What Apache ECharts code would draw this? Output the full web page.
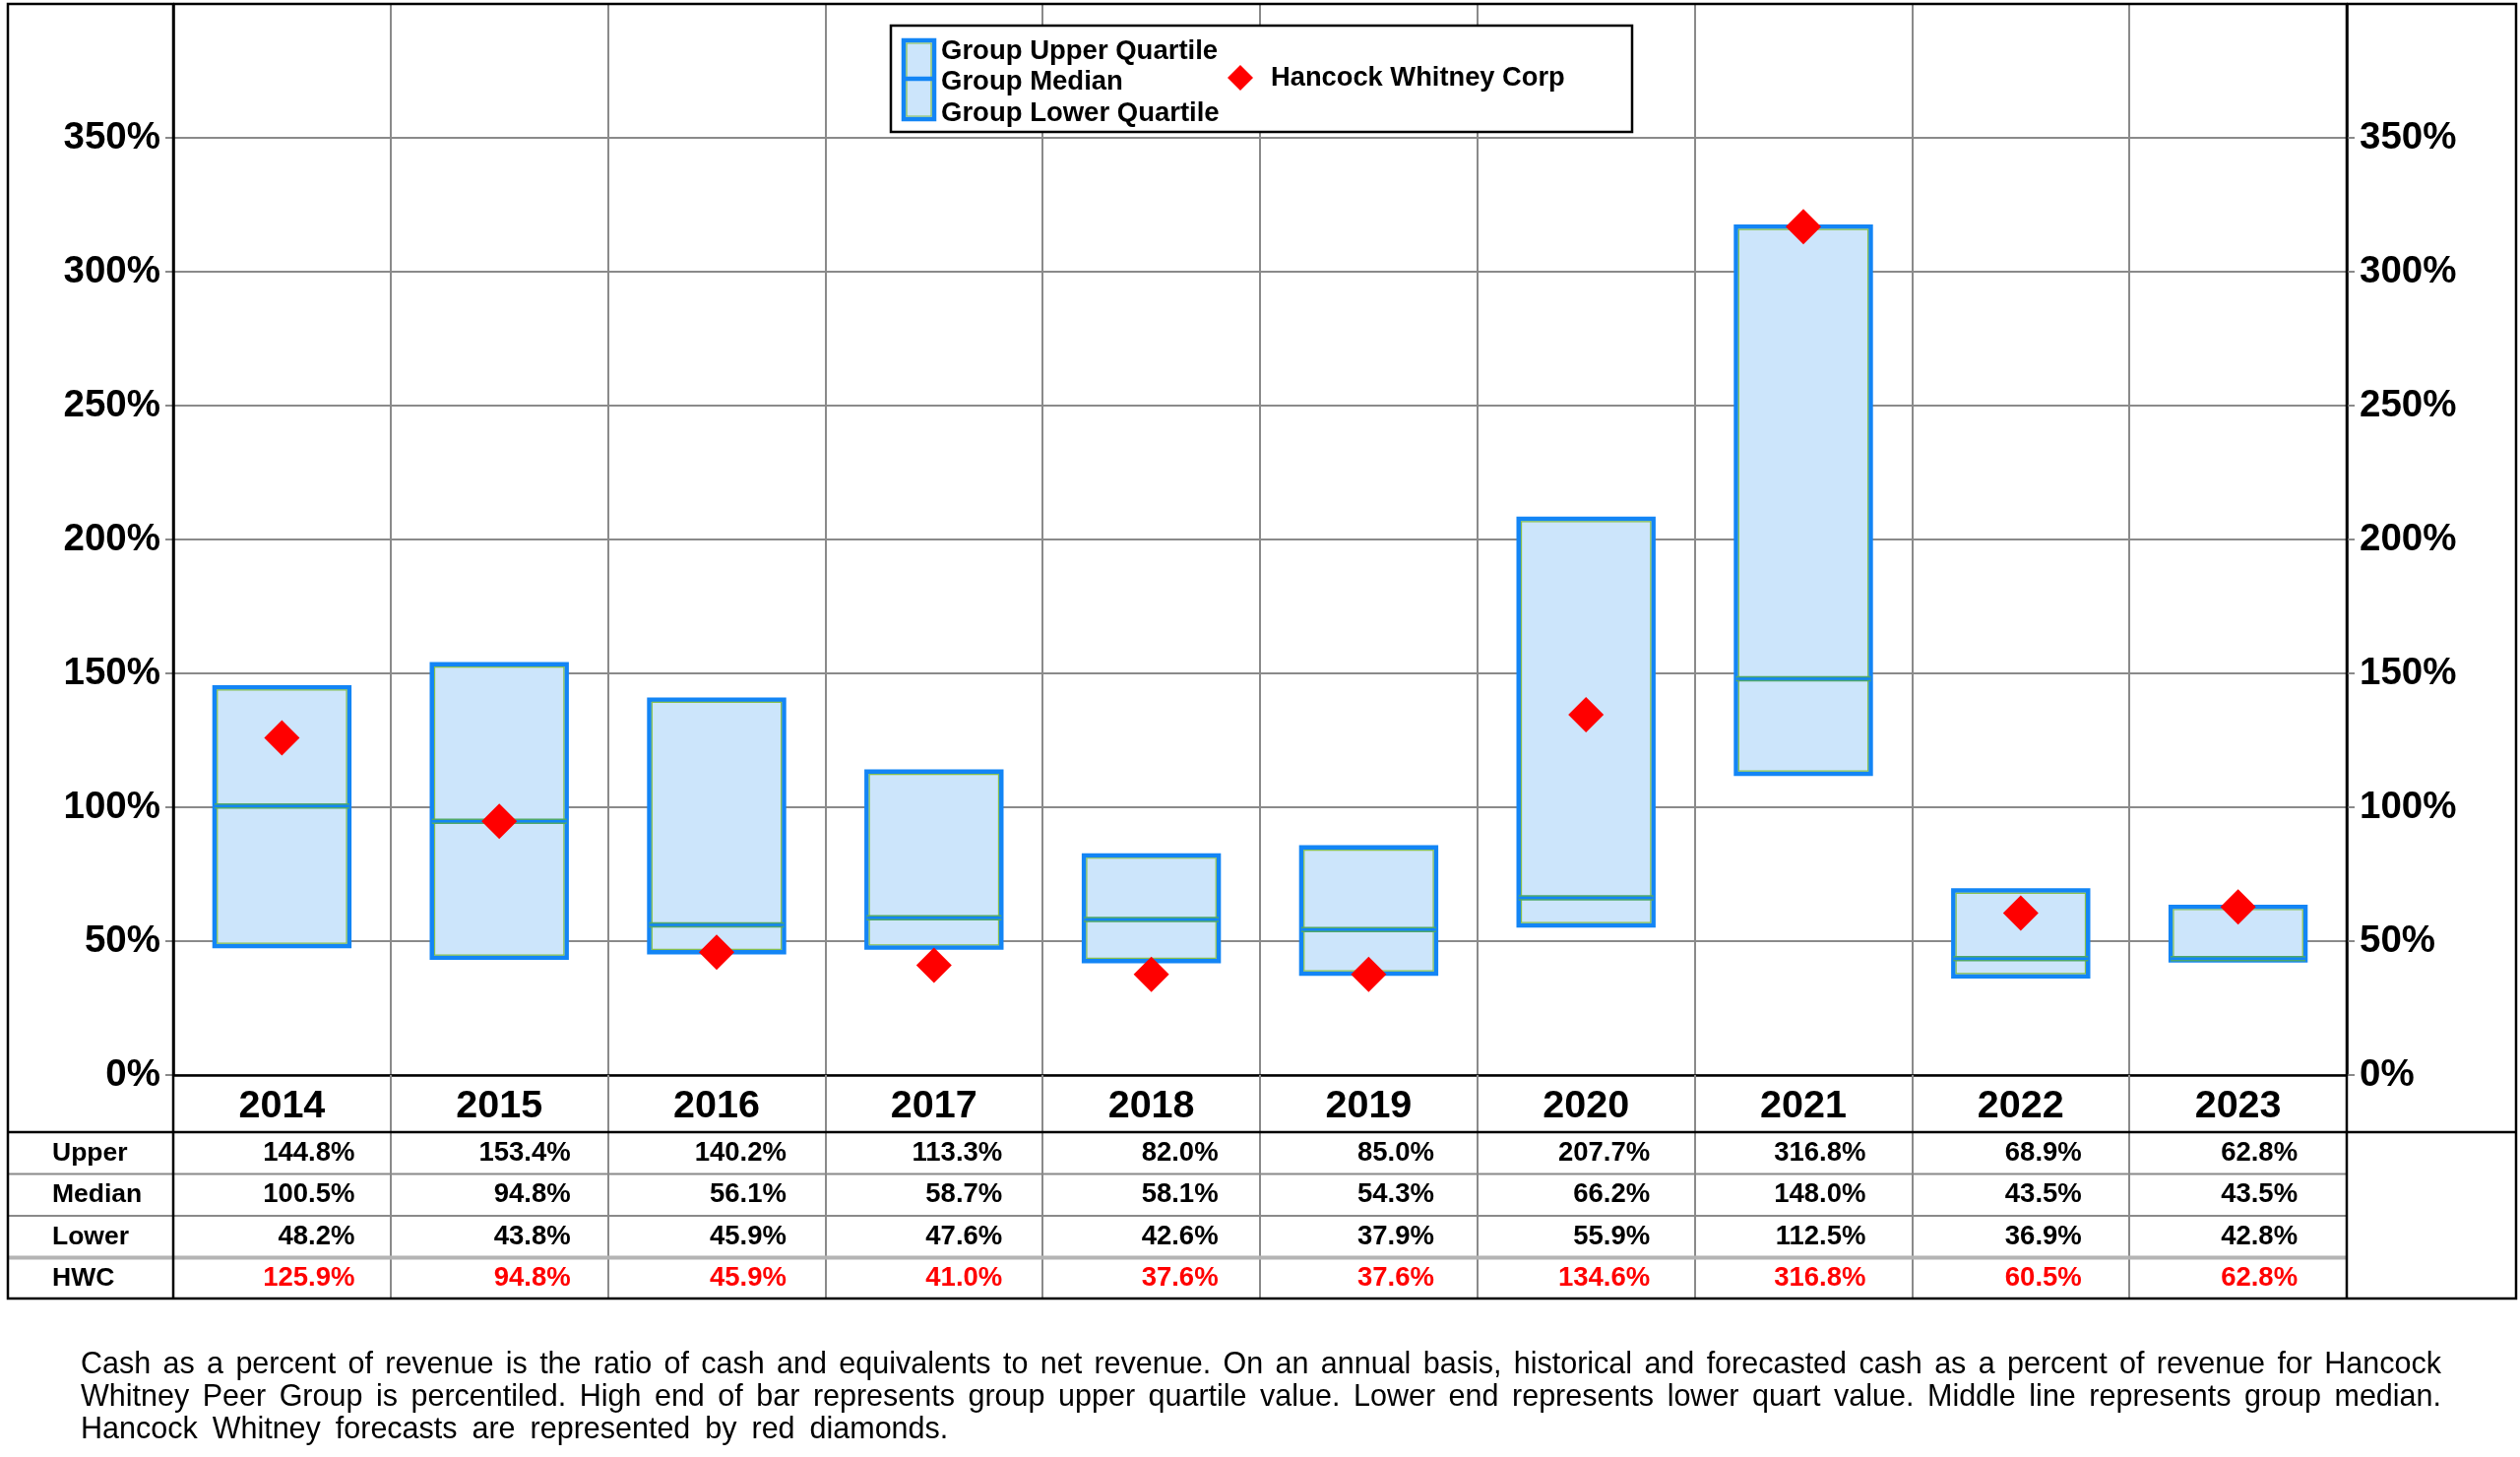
<!DOCTYPE html>
<html>
<head>
<meta charset="utf-8">
<script src="https://cdn.jsdelivr.net/npm/echarts@6/dist/echarts.min.js"></script>
<style>
  html, body { margin: 0; padding: 0; background: #fff; }
  #wrap { position: relative; width: 2560px; height: 1480px; }
  #chart { position: absolute; left: 0; top: 0; width: 2560px; height: 1480px; }
  #note { position: absolute; left: 82px; top: 1368px; width: 2398px;
          font-family: "Liberation Sans", Arial, sans-serif; font-size: 30.5px; line-height: 33px; color: #000; }
  #note div { white-space: nowrap; }
  #note div.j { text-align: justify; text-align-last: justify; white-space: normal; }
  #note div.l { word-spacing: 6.5px; }
</style>
</head>
<body>
<div id="wrap">
  <div id="chart"></div>
  <div id="note">
    <div class="j">Cash as a percent of revenue is the ratio of cash and equivalents to net revenue. On an annual basis, historical and forecasted cash as a percent of revenue for Hancock</div>
    <div class="j">Whitney Peer Group is percentiled. High end of bar represents group upper quartile value. Lower end represents lower quart value. Middle line represents group median.</div>
    <div class="l">Hancock Whitney forecasts are represented by red diamonds.</div>
  </div>
</div>
<script>
// ---------- data ----------
const years   = ['2014','2015','2016','2017','2018','2019','2020','2021','2022','2023'];
const upper   = [144.8, 153.4, 140.2, 113.3, 82.0, 85.0, 207.7, 316.8, 68.9, 62.8];
const median  = [100.5,  94.8,  56.1,  58.7, 58.1, 54.3,  66.2, 148.0, 43.5, 43.5];
const lower   = [ 48.2,  43.8,  45.9,  47.6, 42.6, 37.9,  55.9, 112.5, 36.9, 42.8];
const hwc     = [125.9,  94.8,  45.9,  41.0, 37.6, 37.6, 134.6, 316.8, 60.5, 62.8];
const rowNames = ['Upper', 'Median', 'Lower', 'HWC'];
const legendGroup = ['Group Upper Quartile', 'Group Median', 'Group Lower Quartile'];
const legendHwc = 'Hancock Whitney Corp';

// ---------- layout ----------
const FONT = '"Liberation Sans", Arial, Helvetica, sans-serif';
const L = 176, R = 2384, TOP = 4, ZERO = 1092;
const YEAR_BOTTOM = 1150, ROW_H = 42.5, TABLE_BOTTOM = 1320;
const FRAME_L = 8, FRAME_R = 2556;
const GRID_GRAY = '#8a8a8a';
const BLUE = '#1385f5', FILL = '#cce5fb', GREEN = '#86c04e', MEDGREEN = '#4fa86a';

const tableRows = [upper, median, lower, hwc];

const boxData = years.map((y, i) => [i, lower[i], median[i], upper[i]]);
const tableData = [];
rowNames.forEach((r, ri) => years.forEach((y, i) => tableData.push([i, ri])));

const chart = echarts.init(document.getElementById('chart'), null, { renderer: 'canvas' });

const yAxisCommon = {
  type: 'value', min: 0, max: 400, interval: 50, gridIndex: 0,
  axisLine: { show: true, lineStyle: { color: '#000', width: 2.5 } },
  axisTick: { show: true, length: 8, lineStyle: { color: GRID_GRAY, width: 2 } },
  splitLine: { show: true, lineStyle: { color: GRID_GRAY, width: 2 } },
  axisLabel: {
    margin: 13, color: '#000', fontFamily: FONT, fontWeight: 'bold', fontSize: 38.5,
    formatter: v => (v >= 400 ? '' : v + '%')
  }
};

const graphics = [];
// frame
graphics.push({ type: 'rect', shape: { x: FRAME_L, y: TOP, width: FRAME_R - FRAME_L, height: TABLE_BOTTOM - TOP - 1 },
  style: { fill: null, stroke: '#000', lineWidth: 2.5 }, z: 100 });
graphics.push({ type: 'line', shape: { x1: L, y1: TOP, x2: L, y2: TABLE_BOTTOM - 1 }, style: { stroke: '#000', lineWidth: 2.5 }, z: 100 });
graphics.push({ type: 'line', shape: { x1: R, y1: TOP, x2: R, y2: TABLE_BOTTOM - 1 }, style: { stroke: '#000', lineWidth: 2.5 }, z: 100 });
graphics.push({ type: 'line', shape: { x1: FRAME_L, y1: YEAR_BOTTOM, x2: FRAME_R, y2: YEAR_BOTTOM }, style: { stroke: '#000', lineWidth: 2.5 }, z: 100 });
for (let k = 1; k < rowNames.length; k++) {
  const y = YEAR_BOTTOM + ROW_H * k;
  const last = k === rowNames.length - 1;
  graphics.push({ type: 'line', shape: { x1: FRAME_L, y1: y, x2: R, y2: y },
    style: { stroke: last ? '#b4b4b4' : GRID_GRAY, lineWidth: last ? 4 : 2 }, z: 90 });
}
// legend
graphics.push({ type: 'rect', shape: { x: 905, y: 26, width: 753, height: 108 }, style: { fill: '#fff', stroke: '#000', lineWidth: 2.5 }, z: 110 });
graphics.push({ type: 'rect', shape: { x: 918, y: 41, width: 31, height: 80 }, style: { fill: FILL, stroke: BLUE, lineWidth: 4.5 }, z: 111 });
graphics.push({ type: 'rect', shape: { x: 921, y: 44, width: 25, height: 74 }, style: { fill: null, stroke: GREEN, lineWidth: 1.2 }, z: 112 });
graphics.push({ type: 'line', shape: { x1: 918, y1: 80, x2: 949, y2: 80 }, style: { stroke: BLUE, lineWidth: 4.5 }, z: 112 });
legendGroup.forEach((t, k) => {
  graphics.push({ type: 'text', x: 956, y: 52 + k * 31.5, z: 112,
    style: { text: t, font: 'bold 27.5px ' + FONT, fill: '#000', align: 'left', verticalAlign: 'middle' } });
});
graphics.push({ type: 'polygon', shape: { points: [[1260, 66], [1273, 79], [1260, 92], [1247, 79]] }, style: { fill: '#ff0000' }, z: 112 });
graphics.push({ type: 'text', x: 1291, y: 79, z: 112,
  style: { text: legendHwc, font: 'bold 27.3px ' + FONT, fill: '#000', align: 'left', verticalAlign: 'middle' } });

const option = {
  backgroundColor: '#fff',
  animation: false,
  grid: [
    { left: L, right: 2560 - R, top: TOP, height: ZERO - TOP },
    { left: L, right: 2560 - R, top: YEAR_BOTTOM, height: TABLE_BOTTOM - YEAR_BOTTOM }
  ],
  xAxis: [
    {
      type: 'category', data: years, gridIndex: 0, boundaryGap: true,
      axisLine: { show: true, lineStyle: { color: '#000', width: 2.5 } },
      axisTick: { show: true, interval: 0, length: YEAR_BOTTOM - ZERO, lineStyle: { color: GRID_GRAY, width: 2 } },
      splitLine: { show: true, interval: 0, lineStyle: { color: GRID_GRAY, width: 2 } },
      axisLabel: { interval: 0, margin: 12, color: '#000', fontFamily: FONT, fontWeight: 'bold', fontSize: 39.5 }
    },
    {
      type: 'category', data: years, gridIndex: 1, boundaryGap: true,
      axisLine: { show: false }, axisTick: { show: false }, axisLabel: { show: false },
      splitLine: { show: true, interval: 0, lineStyle: { color: GRID_GRAY, width: 2 } }
    }
  ],
  yAxis: [
    Object.assign({}, yAxisCommon, { position: 'left' }),
    Object.assign({}, yAxisCommon, { position: 'right', splitLine: { show: false } }),
    {
      type: 'category', data: rowNames, inverse: true, gridIndex: 1,
      axisLine: { show: false }, axisTick: { show: false }, splitLine: { show: false },
      axisLabel: { align: 'left', margin: L - 53, color: '#000', fontFamily: FONT, fontWeight: 'bold', fontSize: 26.5 }
    }
  ],
  graphic: graphics,
  series: [
    {
      type: 'custom', name: 'Group', xAxisIndex: 0, yAxisIndex: 0, data: boxData, z: 5,
      encode: { x: 0, y: [1, 2, 3] },
      renderItem: function (params, api) {
        const i = api.value(0);
        const lo = api.coord([i, api.value(1)]);
        const md = api.coord([i, api.value(2)]);
        const up = api.coord([i, api.value(3)]);
        const w = api.size([1, 0])[0] * 0.62;
        const x = lo[0] - w / 2, y = up[1], h = lo[1] - up[1];
        return {
          type: 'group', children: [
            { type: 'rect', shape: { x: x, y: y, width: w, height: h }, style: { fill: FILL, stroke: BLUE, lineWidth: 4.5 } },
            { type: 'rect', shape: { x: x + 2.8, y: y + 2.8, width: w - 5.6, height: h - 5.6 }, style: { fill: null, stroke: GREEN, lineWidth: 1.2 } },
            { type: 'line', shape: { x1: x, y1: md[1], x2: x + w, y2: md[1] }, style: { stroke: MEDGREEN, lineWidth: 5.5 } },
            { type: 'line', shape: { x1: x, y1: md[1], x2: x + w, y2: md[1] }, style: { stroke: BLUE, lineWidth: 2.5 } }
          ]
        };
      }
    },
    {
      type: 'scatter', name: legendHwc, xAxisIndex: 0, yAxisIndex: 0, data: hwc, z: 10,
      symbol: 'diamond', symbolSize: 36, itemStyle: { color: '#ff0000', opacity: 1 }
    },
    {
      type: 'custom', name: 'table', xAxisIndex: 1, yAxisIndex: 2, data: tableData, z: 20,
      encode: { x: 0, y: 1 },
      renderItem: function (params, api) {
        const i = api.value(0), r = api.value(1);
        const p = api.coord([i, r]);
        const v = tableRows[r][i];
        return {
          type: 'text', x: p[0] + 74 - 1.5 * i, y: p[1],
          style: { text: v.toFixed(1) + '%', font: 'bold 27.5px ' + FONT, fill: r === 3 ? '#ff0000' : '#000',
                   align: 'right', verticalAlign: 'middle' }
        };
      }
    }
  ]
};
chart.setOption(option);
</script>
</body>
</html>
